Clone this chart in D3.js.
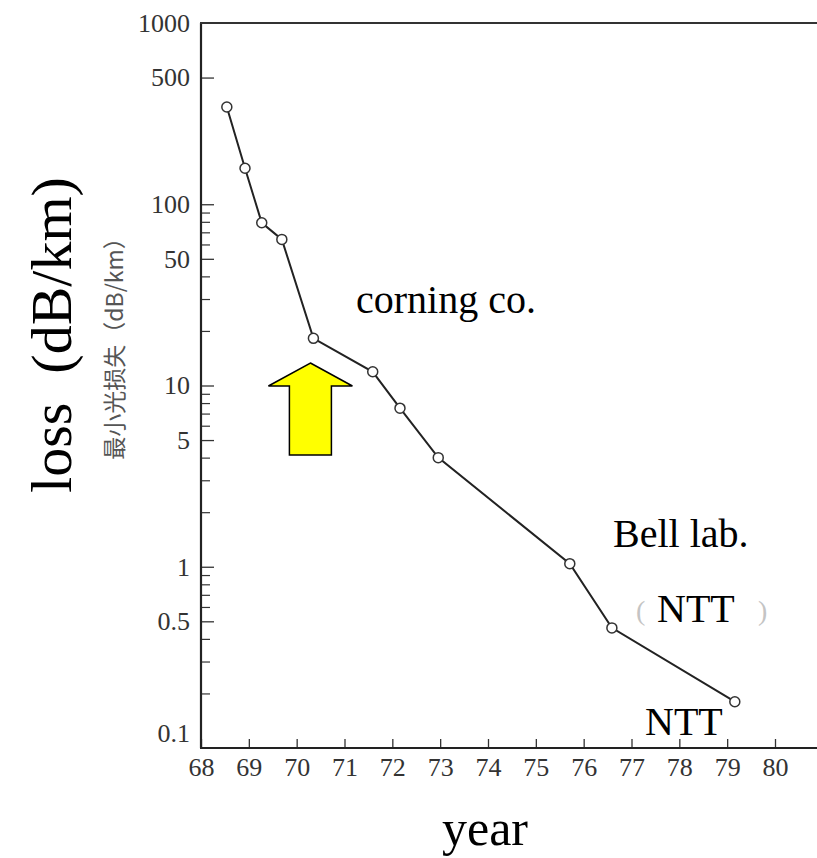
<!DOCTYPE html>
<html>
<head>
<meta charset="utf-8">
<script src="https://cdn.jsdelivr.net/npm/d3@7"></script>
<style>
  body { margin: 0; background: #fff; }
  svg { display: block; }
  .tick text { font-family: "Liberation Serif", "Times New Roman", serif; fill: #333; }
  .big { font-family: "Liberation Serif", "Times New Roman", serif; fill: #000; }
</style>
</head>
<body>
<div id="chart"></div>
<script>
// data
var years = [68.54, 68.92, 69.27, 69.69, 70.35, 71.59, 72.16, 72.96, 75.71, 76.59, 79.16];
var loss  = [344, 158, 79, 64, 18.2, 11.9, 7.5, 4.0, 1.04, 0.46, 0.18];

var xTicks = [68, 69, 70, 71, 72, 73, 74, 75, 76, 77, 78, 79, 80];
var yMajor = [0.1, 0.5, 1, 5, 10, 50, 100, 500, 1000];
var yMinor = [0.2, 0.3, 0.4, 0.6, 0.7, 0.8, 0.9, 2, 3, 4, 6, 7, 8, 9, 20, 30, 40, 60, 70, 80, 90];

var width = 817, height = 858;

var svg = d3.select("#chart").append("svg")
  .attr("width", width)
  .attr("height", height);

// scales
var x = d3.scaleLinear().domain([68, 80]).range([201, 775]);
var y = d3.scaleLog().domain([0.1, 1000]).range([748, 23]);

// x axis (ticks point inward)
var xAxis = d3.axisBottom(x)
  .tickValues(xTicks)
  .tickFormat(d3.format("d"))
  .tickSizeInner(-9)
  .tickSizeOuter(0)
  .tickPadding(10);

var xAxisEl = svg.append("g")
  .attr("transform", "translate(0," + y(0.1) + ")")
  .call(xAxis);
xAxisEl.select(".domain").remove();
xAxisEl.selectAll(".tick line").attr("stroke", "#333").attr("stroke-width", 1.3);
xAxisEl.selectAll(".tick text").style("font-size", "26px");

// y axis, major ticks with labels
var yAxis = d3.axisLeft(y)
  .tickValues(yMajor)
  .tickFormat(function(d) { return String(d); })
  .tickSizeInner(-13)
  .tickSizeOuter(0)
  .tickPadding(11);

var yAxisEl = svg.append("g")
  .attr("transform", "translate(" + x(68) + ",0)")
  .call(yAxis);
yAxisEl.select(".domain").remove();
yAxisEl.selectAll(".tick line")
  .attr("stroke", "#333").attr("stroke-width", 1.3)
  .style("display", function(d) { return d === 1000 || d === 0.1 ? "none" : null; });
yAxisEl.selectAll(".tick text")
  .style("font-size", "26px")
  .attr("dy", function(d) { return d === 0.1 ? "-0.25em" : "0.32em"; });

// minor ticks
var yMinorEl = svg.append("g")
  .attr("transform", "translate(" + x(68) + ",0)")
  .call(d3.axisLeft(y).tickValues(yMinor).tickFormat("").tickSizeInner(-9).tickSizeOuter(0));
yMinorEl.select(".domain").remove();
yMinorEl.selectAll(".tick line").attr("stroke", "#333").attr("stroke-width", 1.2);

// frame: left, bottom and top lines (scan is cut off on the right)
svg.append("line")
  .attr("x1", x(68)).attr("x2", x(68))
  .attr("y1", y(1000)).attr("y2", y(0.1))
  .attr("stroke", "#222").attr("stroke-width", 2.2);
svg.append("line")
  .attr("x1", x(68) - 1).attr("x2", width)
  .attr("y1", y(0.1)).attr("y2", y(0.1))
  .attr("stroke", "#222").attr("stroke-width", 2.2);
svg.append("line")
  .attr("x1", x(68) - 1).attr("x2", width)
  .attr("y1", y(1000)).attr("y2", y(1000))
  .attr("stroke", "#333").attr("stroke-width", 2);

// line + points
var pts = years.map(function(d, i) { return {year: d, loss: loss[i]}; });

var line = d3.line()
  .x(function(d) { return x(d.year); })
  .y(function(d) { return y(d.loss); });

svg.append("path")
  .datum(pts)
  .attr("d", line)
  .attr("fill", "none")
  .attr("stroke", "#222")
  .attr("stroke-width", 2);

svg.selectAll("circle.pt")
  .data(pts)
  .enter().append("circle")
  .attr("class", "pt")
  .attr("cx", function(d) { return x(d.year); })
  .attr("cy", function(d) { return y(d.loss); })
  .attr("r", 5)
  .attr("fill", "#fff")
  .attr("stroke", "#333")
  .attr("stroke-width", 1.5);

// yellow arrow under the corning point
var tipX = x(years[4]) - 3, tipY = 363;
var arrow = [
  [tipX, tipY], [tipX + 42, tipY + 23], [tipX + 21, tipY + 23], [tipX + 21, tipY + 92],
  [tipX - 21, tipY + 92], [tipX - 21, tipY + 23], [tipX - 42, tipY + 23]
];
svg.append("path")
  .attr("d", "M" + arrow.join("L") + "Z")
  .attr("fill", "#ffff00")
  .attr("stroke", "#000")
  .attr("stroke-width", 1.5)
  .attr("stroke-linejoin", "miter");

// annotations
function label(txt, px, py, size) {
  return svg.append("text")
    .attr("class", "big")
    .attr("x", px).attr("y", py)
    .style("font-size", size + "px")
    .text(txt);
}
label("corning co.", 356, 313, 40);
label("Bell lab.", 613, 547, 40);
label("NTT", 657, 622, 40);
label("NTT", 645, 735, 40);

// faint brackets left over in the scan around the middle NTT
svg.append("text").attr("x", 636).attr("y", 620)
  .style("font-family", "Liberation Serif").style("font-size", "28px").attr("fill", "#c4c4c4").text("(");
svg.append("text").attr("x", 758).attr("y", 620)
  .style("font-family", "Liberation Serif").style("font-size", "28px").attr("fill", "#c4c4c4").text(")");

// axis titles
svg.append("text")
  .attr("class", "big")
  .attr("transform", "translate(71,335) rotate(-90)")
  .attr("text-anchor", "middle")
  .style("font-size", "58px")
  .text("loss\u2002(dB/km)");

svg.append("text")
  .attr("transform", "translate(113,343) rotate(-90)")
  .attr("text-anchor", "middle")
  .attr("dominant-baseline", "central")
  .style("font-family", "'Noto Sans CJK SC', sans-serif")
  .style("font-size", "23px")
  .attr("fill", "#555")
  .text("最小光损失（dB/km）");

svg.append("text")
  .attr("class", "big")
  .attr("x", 485).attr("y", 845)
  .attr("text-anchor", "middle")
  .style("font-size", "50px")
  .text("year");
</script>
</body>
</html>
